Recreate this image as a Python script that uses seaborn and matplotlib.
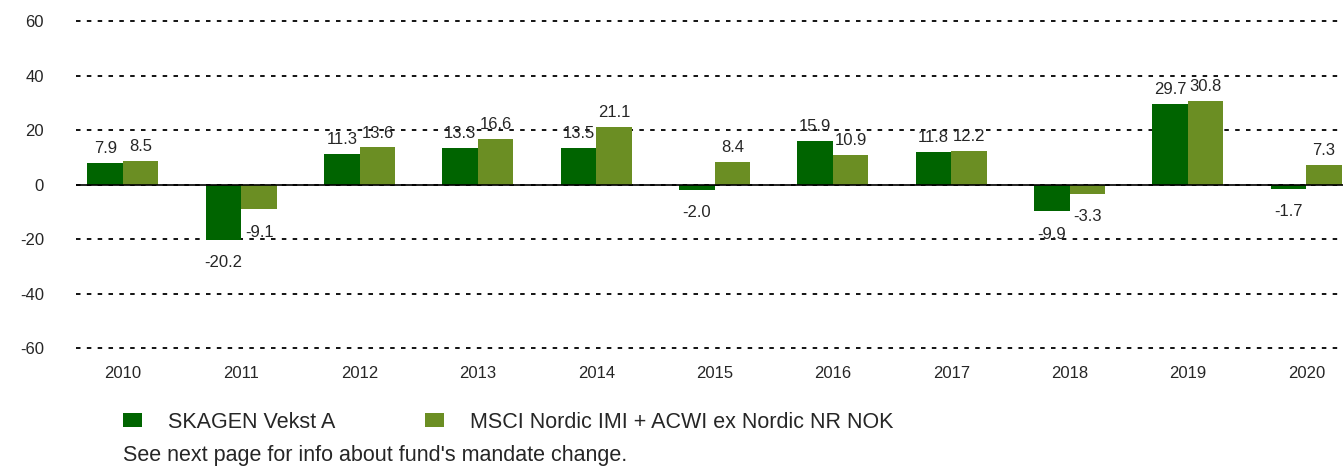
import pandas as pd
import matplotlib.pyplot as plt
import seaborn as sns
from matplotlib.patches import Patch

# Annual returns (%)
years = ['2010', '2011', '2012', '2013', '2014', '2015', '2016', '2017', '2018', '2019', '2020']
fund = [7.9, -20.2, 11.3, 13.3, 13.5, -2.0, 15.9, 11.8, -9.9, 29.7, -1.7]
index = [8.5, -9.1, 13.6, 16.6, 21.1, 8.4, 10.9, 12.2, -3.3, 30.8, 7.3]
series = ['SKAGEN Vekst A', 'MSCI Nordic IMI + ACWI ex Nordic NR NOK']
colors = ['#006400', '#6B8E23']
yticks = [60, 40, 20, 0, -20, -40, -60]
note = "See next page for info about fund's mandate change."

df = pd.DataFrame({
    'Year': years * 2,
    'Return': fund + index,
    'Series': [series[0]] * len(years) + [series[1]] * len(years),
})

sns.set_style('white')
plt.rcParams['font.family'] = ['Liberation Sans', 'DejaVu Sans']

fig = plt.figure(figsize=(13.43, 4.66), dpi=100)
ax = fig.add_axes([0.0566, 0.2415, 0.9434, 0.7251])

sns.barplot(data=df, x='Year', y='Return', hue='Series', palette=colors,
            width=0.60, saturation=1, legend=False, linewidth=0, ax=ax)

ax.set_ylim(-62, 62)
ax.set_xlim(-0.397, 10.31)
ax.set_yticks(yticks)
ax.set_yticklabels([str(t) for t in yticks])
ax.grid(axis='y', color='black', linestyle=(0, (2.5, 3.5)), linewidth=1.3)
ax.grid(axis='x', visible=False)
ax.set_axisbelow(True)
ax.axhline(0, color='black', linewidth=1.2, zorder=1)
for s in ax.spines.values():
    s.set_visible(False)
ax.tick_params(axis='y', length=0, pad=23, labelsize=12)
ax.tick_params(axis='x', length=0, pad=9, labelsize=12)
ax.set_xlabel('')
ax.set_ylabel('')

# value labels above positive bars, below negative ones
for cont in ax.containers:
    for bar in cont:
        h = bar.get_height()
        end = bar.get_y() + h
        x = bar.get_x() + bar.get_width() / 2
        if h >= 0:
            ax.annotate(f'{h:.1f}', (x, end), xytext=(0, 5), textcoords='offset points',
                        ha='center', va='bottom', fontsize=12)
        else:
            ax.annotate(f'{h:.1f}', (x, end), xytext=(0, -11), textcoords='offset points',
                        ha='center', va='top', fontsize=12)

handles = [Patch(facecolor=c, edgecolor='none') for c in colors]
fig.legend(handles, series, ncol=2, frameon=False, loc='center left',
           bbox_to_anchor=(0.0916, 0.0944), borderpad=0, borderaxespad=0,
           fontsize=15.5, handlelength=0.87, handleheight=0.64,
           handletextpad=1.2, columnspacing=4.2)
fig.text(0.0916, 0.0236, note, fontsize=15.5, ha='left', va='center')

plt.savefig('out.png', dpi=100)
